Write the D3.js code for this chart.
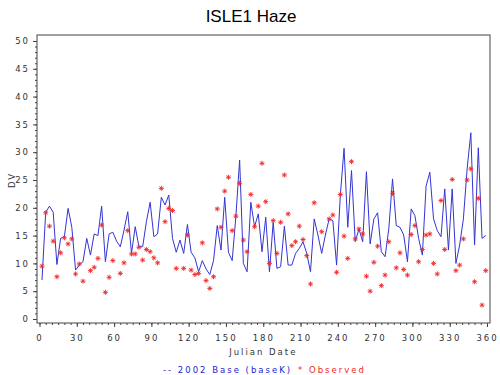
<!DOCTYPE html>
<html>
<head>
<meta charset="utf-8">
<script src="https://cdn.jsdelivr.net/npm/d3@7"></script>
<style>
  body { margin: 0; background: #fff; }
  svg { display: block; }
  .tick text, .lab { font-family: "DejaVu Sans", sans-serif; font-size: 8.5px; letter-spacing: 2px; fill: #333; }
</style>
</head>
<body>
<div id="chart"></div>
<script>
// ISLE1 Haze - modelled (2002 base) vs observed deciview, by julian date

const days = [2, 5, 8, 11, 14, 17, 20, 23, 26, 29, 32, 35, 38, 41, 44, 47, 50, 53, 56, 59,
  62, 65, 68, 71, 74, 77, 80, 83, 86, 89, 92, 95, 98, 101, 104, 107, 110, 113, 116, 119,
  122, 125, 128, 131, 134, 137, 140, 143, 146, 149, 152, 155, 158, 161, 164, 167, 170, 173, 176, 179,
  182, 185, 188, 191, 194, 197, 200, 203, 206, 209, 212, 215, 218, 221, 224, 227, 230, 233, 236, 239,
  242, 245, 248, 251, 254, 257, 260, 263, 266, 269, 272, 275, 278, 281, 284, 287, 290, 293, 296, 299,
  302, 305, 308, 311, 314, 317, 320, 323, 326, 329, 332, 335, 338, 341, 344, 347, 350, 353, 356, 359];

// 2002 Base (baseK)
const baseK = [7.0, 19.2, 20.3, 19.2, 9.8, 14.5, 14.8, 19.9, 16.5, 8.8, 9.7, 10.3, 14.5, 11.5, 15.3, 15.0, 20.3, 10.3, 15.3, 15.6,
  14.0, 13.0, 16.0, 19.3, 11.8, 16.6, 13.0, 13.0, 17.5, 21.0, 14.8, 15.3, 21.9, 20.5, 22.3, 14.5, 12.0, 14.2, 11.8, 17.0,
  12.0, 11.0, 8.5, 10.5, 9.0, 8.0, 10.5, 16.8, 12.4, 21.9, 12.0, 10.5, 18.5, 28.6, 10.0, 8.5, 21.0, 16.6, 18.9, 12.1,
  18.3, 8.5, 17.4, 9.1, 9.4, 16.7, 9.7, 9.7, 11.8, 12.7, 13.9, 11.8, 8.5, 18.0, 15.1, 11.8, 15.1, 18.0, 17.7, 9.7,
  22.2, 30.7, 16.5, 26.7, 13.9, 16.2, 13.9, 26.5, 13.5, 18.0, 19.1, 12.1, 11.2, 16.2, 25.2, 16.8, 16.5, 15.1, 10.3, 19.8,
  18.6, 14.5, 11.5, 23.9, 26.4, 18.0, 15.9, 14.8, 23.4, 12.4, 23.4, 10.0, 13.3, 18.0, 27.0, 33.5, 13.3, 30.8, 14.5, 15.0];

// Observed (null = no sample)
const observed = [9.5, 19.1, 16.7, 14.0, 7.6, 11.9, 14.6, 13.5, 14.4, 8.1, 9.9, 6.8, null, 8.7, 9.3, 10.9, 16.9, 4.8, 7.5, 10.5,
  null, 8.2, 10.1, 15.9, 11.7, 11.7, 12.9, 10.6, 12.5, 12.1, 11.0, 10.1, 23.5, 17.5, 19.9, 19.5, 9.1, null, 9.1, 15.1,
  8.8, 8.0, 8.2, 13.7, 6.9, 5.5, 7.6, 19.8, 16.5, 23.0, 25.5, 15.9, 18.5, 24.4, 14.2, 12.1, 22.4, 16.6, 20.3, 28.0,
  21.1, 10.0, 17.7, 11.8, 17.4, 25.9, 18.9, 13.2, 13.9, 16.7, 14.3, 11.4, 6.3, 20.9, null, 15.7, null, 18.0, 18.7, 8.4,
  22.4, 14.9, 10.9, 28.3, 14.4, 16.2, 15.3, 7.7, 5.0, 10.2, 13.1, 6.0, 7.9, 13.9, 22.6, 9.2, 11.9, 8.9, 7.9, 15.2,
  16.8, 10.3, 12.5, 15.1, 15.3, 10.0, 8.1, 21.3, 12.5, null, 25.1, 8.7, 9.7, 14.4, 25.0, 27.0, 6.7, 21.7, 2.5, 8.7];

const xTicks = [0, 30, 60, 90, 120, 150, 180, 210, 240, 270, 300, 330, 360];
const yTicks = [0, 5, 10, 15, 20, 25, 30, 35, 40, 45, 50];

const W = 500, H = 375;
const frame = { left: 37, right: 490, top: 35, bottom: 323 };

const svg = d3.select('#chart').append('svg')
  .attr('width', W)
  .attr('height', H);

const x = d3.scaleLinear().domain([0, 360]).range([39.5, 487]);
const y = d3.scaleLinear().domain([0, 50]).range([319, 41]);

// Title
svg.append('text')
  .attr('x', 251)
  .attr('y', 21.5)
  .attr('text-anchor', 'middle')
  .style('font-family', '"Liberation Sans", Arial, sans-serif')
  .style('font-size', '17px')
  .text('ISLE1 Haze');

// Frame
svg.append('rect')
  .attr('x', frame.left)
  .attr('y', frame.top)
  .attr('width', frame.right - frame.left)
  .attr('height', frame.bottom - frame.top)
  .attr('fill', 'none')
  .attr('stroke', '#444')
  .attr('stroke-width', 1);

// Y axis: major + minor ticks
svg.append('g')
  .attr('transform', `translate(${frame.left},0)`)
  .call(d3.axisLeft(y).tickValues(yTicks).tickSize(4).tickPadding(3));
svg.append('g')
  .attr('transform', `translate(${frame.left},0)`)
  .call(d3.axisLeft(y).tickValues(d3.range(0, 51, 1)).tickSize(2).tickFormat(''));

// X axis: major + minor ticks
svg.append('g')
  .attr('transform', `translate(0,${frame.bottom})`)
  .call(d3.axisBottom(x).tickValues(xTicks).tickSize(4).tickPadding(8));
svg.append('g')
  .attr('transform', `translate(0,${frame.bottom})`)
  .call(d3.axisBottom(x).tickValues(d3.range(0, 361, 5)).tickSize(2).tickFormat(''));

svg.selectAll('.domain').remove();
svg.selectAll('.tick line').attr('stroke', '#444');

// Axis labels
svg.append('text')
  .attr('class', 'lab')
  .attr('transform', `translate(15,${(y(0) + y(50)) / 2}) rotate(-90)`)
  .attr('text-anchor', 'middle')
  .text('DV');

svg.append('text')
  .attr('class', 'lab')
  .attr('x', (x(0) + x(360)) / 2)
  .attr('y', 355)
  .attr('text-anchor', 'middle')
  .text('Julian Date');

// Model line
const lineData = days.map((d, i) => ({ day: d, v: baseK[i] }));
svg.append('path')
  .datum(lineData)
  .attr('fill', 'none')
  .attr('stroke', '#3434d4')
  .attr('stroke-width', 1)
  .attr('d', d3.line().x(d => x(d.day)).y(d => y(d.v)));

// Observed stars
const r = 2.5;
const k = r * 0.72;
const starPath = `M${-r},0L${r},0M0,${-r}L0,${r}M${-k},${-k}L${k},${k}M${-k},${k}L${k},${-k}`;
const obsData = days.map((d, i) => ({ day: d, v: observed[i] })).filter(d => d.v != null);
svg.append('g')
  .selectAll('path')
  .data(obsData)
  .join('path')
  .attr('transform', d => `translate(${x(d.day)},${y(d.v)})`)
  .attr('d', starPath)
  .attr('fill', 'none')
  .attr('stroke', '#f02828')
  .attr('stroke-width', 0.9);

// Legend
const legend = svg.append('text')
  .attr('class', 'lab')
  .attr('x', 163)
  .attr('y', 373);
legend.append('tspan').style('fill', '#2424cc').text('-- 2002 Base (baseK)');
legend.append('tspan').style('fill', '#f02828').attr('dx', 6).text('* Observed');
</script>
</body>
</html>
